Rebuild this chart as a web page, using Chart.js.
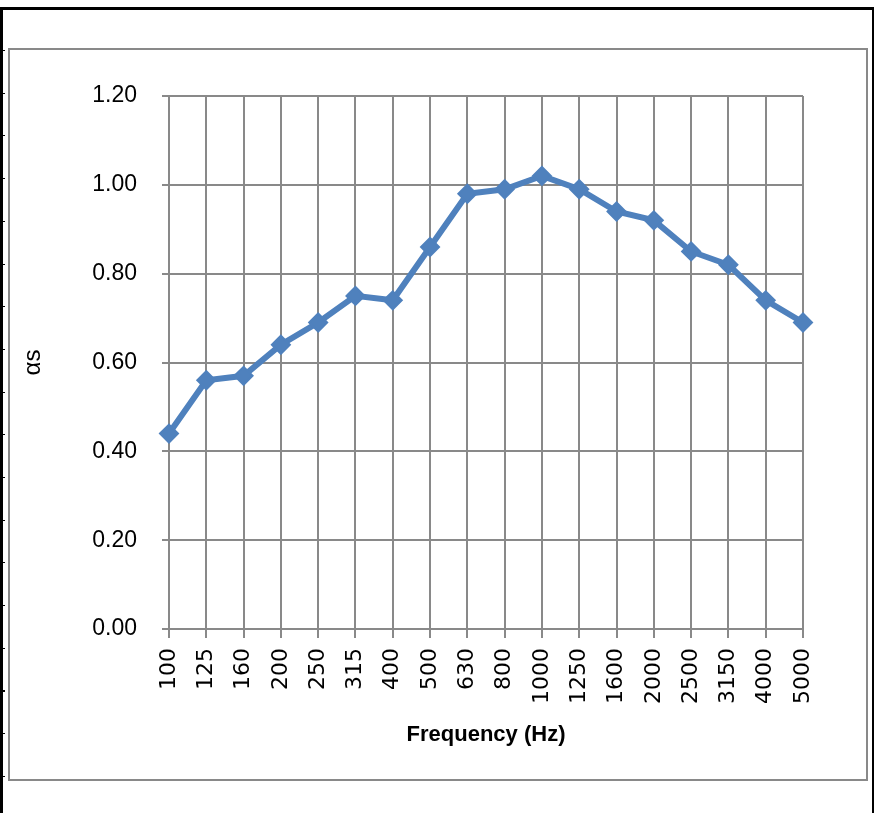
<!DOCTYPE html>
<html>
<head>
<meta charset="utf-8">
<script src="https://cdn.jsdelivr.net/npm/chart.js@4"></script>
<style>
  body { margin: 0; background: #fff; }
  #outer { position: absolute; left: 0; top: 7px; width: 874px; height: 820px; box-sizing: border-box;
    border-top: 3px solid #000; border-left: 3px solid #000; border-right: 2px solid #000; }
  #marks { position: absolute; left: 3px; top: 50px; width: 2px; height: 740px;
    background: repeating-linear-gradient(to bottom, #000 0 1px, transparent 1px 42.7px); }
  #frame { position: absolute; left: 8px; top: 48px; width: 860px; height: 733px; box-sizing: border-box;
    border: 2px solid #898989; }
  #wrap { position: absolute; left: 10px; top: 50px; width: 856px; height: 729px; }
</style>
</head>
<body>
<div id="outer"></div>
<div id="marks"></div>
<div id="frame"></div>
<div id="wrap"><canvas id="alpha" width="856" height="729"></canvas></div>
<script>
const frequencies = ['100', '125', '160', '200', '250', '315', '400', '500', '630', '800',
    '1000', '1250', '1600', '2000', '2500', '3150', '4000', '5000'];
const alphaS = [0.44, 0.56, 0.57, 0.64, 0.69, 0.75, 0.74, 0.86, 0.98, 0.99,
    1.02, 0.99, 0.94, 0.92, 0.85, 0.82, 0.74, 0.69];
const yMin = 0;
const yMax = 1.2;
const yStep = 0.2;

const gridGrey = '#898989';

const alphachart = document.getElementById('alpha').getContext('2d');
const alpha = new Chart(alphachart, {
    type: 'line',
    data: {
        labels: frequencies,
        datasets: [{
            data: alphaS,
            borderColor: '#4F81BD',
            backgroundColor: '#4F81BD',
            borderWidth: 6,
            pointStyle: 'rectRot',
            pointRadius: 9,
            pointBorderWidth: 2,
            pointBackgroundColor: '#4F81BD',
            pointBorderColor: '#4F81BD',
            tension: 0
        }]
    },
    options: {
        responsive: false,
        animation: false,
        layout: {
            padding: { top: 46, right: 63, left: 0, bottom: 0 }
        },
        scales: {
            x: {
                afterFit: function (scale) { scale.height = 150; },
                grid: {
                    color: gridGrey,
                    lineWidth: 2,
                    tickLength: 9,
                    offset: false
                },
                border: { color: gridGrey, width: 2 },
                ticks: {
                    autoSkip: false,
                    minRotation: 90,
                    maxRotation: 90,
                    padding: 10,
                    color: '#000',
                    font: { family: 'DejaVu Sans', size: 22 }
                },
                title: {
                    display: true,
                    text: 'Frequency (Hz)',
                    color: '#000',
                    padding: { top: 4, bottom: 31 },
                    font: { family: 'Liberation Sans', size: 22, weight: 'bold' }
                }
            },
            y: {
                min: yMin,
                max: yMax,
                afterFit: function (scale) { scale.width = 159; },
                grid: {
                    color: gridGrey,
                    lineWidth: 2,
                    tickLength: 7
                },
                border: { color: gridGrey, width: 2 },
                ticks: {
                    stepSize: yStep,
                    padding: 25,
                    color: '#000',
                    font: { family: 'Liberation Sans', size: 23 },
                    callback: function (value) { return value.toFixed(2); }
                },
                title: {
                    display: true,
                    text: 'αs',
                    color: '#000',
                    padding: { top: 9, bottom: 4 },
                    font: { family: 'Liberation Sans', size: 24 }
                }
            }
        },
        plugins: {
            legend: { display: false },
            tooltip: { enabled: false }
        }
    }
});
</script>
</body>
</html>
